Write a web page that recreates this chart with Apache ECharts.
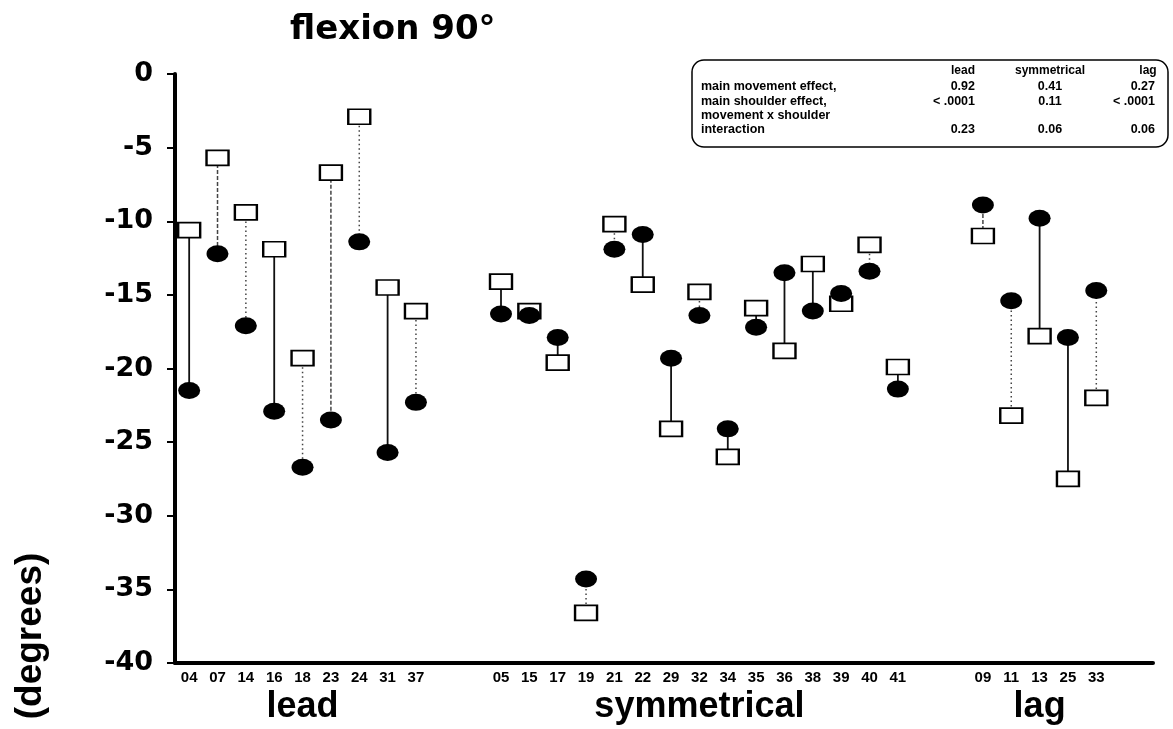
<!DOCTYPE html>
<html><head><meta charset="utf-8">
<script src="https://cdn.jsdelivr.net/npm/echarts@6/dist/echarts.min.js"></script>
<style>html,body{margin:0;padding:0;background:#fff}#c{width:1173px;height:729px}</style>
</head><body><div id="c"></div>
<script>
// ---- data ----
const leadIds = ['04','07','14','16','18','23','24','31','37'];
const leadSquare = [-10.6, -5.7, -9.4, -11.9, -19.3, -6.7, -2.9, -14.5, -16.1];
const leadCircle = [-21.5, -12.2, -17.1, -22.9, -26.7, -23.5, -11.4, -25.7, -22.3];

const symIds = ['05','15','17','19','21','22','29','32','34','35','36','38','39','40','41'];
const symSquare = [-14.1, -16.1, -19.6, -36.6, -10.2, -14.3, -24.1, -14.8, -26.0, -15.9, -18.8, -12.9, -15.6, -11.6, -19.9];
const symCircle = [-16.3, -16.4, -17.9, -34.3, -11.9, -10.9, -19.3, -16.4, -24.1, -17.2, -13.5, -16.1, -14.9, -13.4, -21.4];

const lagIds = ['09','11','13','25','33'];
const lagSquare = [-11.0, -23.2, -17.8, -27.5, -22.0];
const lagCircle = [-8.9, -15.4, -9.8, -17.9, -14.7];

const groupNames = ['lead', 'symmetrical', 'lag'];
const yTicks = [0, -5, -10, -15, -20, -25, -30, -35, -40];

const tableHeader = ['lead', 'symmetrical', 'lag'];
const tableRows = [
  ['main movement effect,', '0.92', '0.41', '0.27'],
  ['main shoulder effect,', '< .0001', '0.11', '< .0001'],
  ['movement x shoulder', '', '', ''],
  ['interaction', '0.23', '0.06', '0.06']
];

// ---- styles (connector dash types) ----
const leadLineType = ['solid','dashed','dotted','solid','dotted','dashed','dotted','solid','dotted'];
const symLineType = ['solid','solid','solid','dotted','dotted','solid','solid','dotted','solid','solid','solid','solid','solid','dotted','solid'];
const lagLineType = ['dashed','dotted','solid','solid','dotted'];

// ---- build ----
const groups = [
  {ids: leadIds, sq: leadSquare, ci: leadCircle, lt: leadLineType},
  {ids: symIds, sq: symSquare, ci: symCircle, lt: symLineType},
  {ids: lagIds, sq: lagSquare, ci: lagCircle, lt: lagLineType}
];
const groupGap = 2;
let p = 0;
const items = [];
const centers = [];
groups.forEach(g => {
  const s = p;
  g.ids.forEach((id, i) => { items.push({pos: p, id: id, sq: g.sq[i], ci: g.ci[i], lt: g.lt[i]}); p++; });
  centers.push((s + p - 1) / 2);
  p += groupGap;
});
const posToId = {}; items.forEach(it => posToId[it.pos] = it.id);
const centerToName = {}; centers.forEach((c, i) => centerToName[c] = groupNames[i]);

const chart = echarts.init(document.getElementById('c'));
const narrow = '"Liberation Sans Narrow", "Liberation Sans", Arial, sans-serif';
const wide = '"DejaVu Sans", sans-serif';
const tf = 'bold 12.5px "Liberation Sans", Arial, sans-serif';

// table graphic
const tbl = [];
const colX = [975, 1050, 1155];
const colAlign = ['right', 'center', 'right'];
const hdrX = [963, 1050, 1148];
tbl.push({type: 'rect', shape: {x: 692, y: 60, width: 476, height: 87, r: 12},
  style: {fill: '#fff', stroke: '#000', lineWidth: 1.5}, z: 10});
tableHeader.forEach((h, i) => tbl.push({type: 'text', x: hdrX[i], y: 71, z: 11,
  style: {text: h, font: 'bold 12px "Liberation Sans", Arial, sans-serif', fill: '#000', align: 'center', verticalAlign: 'middle'}}));
tableRows.forEach((r, ri) => {
  const y = 87 + ri * 14.3;
  tbl.push({type: 'text', x: 701, y: y, z: 11,
    style: {text: r[0], font: tf, fill: '#000', align: 'left', verticalAlign: 'middle'}});
  for (let c = 1; c < 4; c++) {
    if (!r[c]) continue;
    tbl.push({type: 'text', x: colX[c-1], y: y, z: 11,
      style: {text: r[c], font: tf, fill: '#000', align: colAlign[c-1], verticalAlign: 'middle'}});
  }
});

chart.setOption({
  animation: false,
  backgroundColor: '#fff',
  title: {text: 'flexion 90°', left: 285, top: 8,
    textStyle: {fontFamily: wide, fontWeight: 'bold', fontSize: 34, color: '#000'}},
  grid: {left: 175, right: 20, top: 74, bottom: 66, containLabel: false},
  xAxis: [{
    type: 'value', min: -0.5, max: 34, position: 'bottom',
    axisLine: {show: true, onZero: false, lineStyle: {color: '#000', width: 4}},
    axisTick: {show: false},
    splitLine: {show: false},
    axisLabel: {customValues: items.map(it => it.pos), formatter: v => posToId[v] || '',
      fontFamily: narrow, fontWeight: 'bold', fontSize: 15, color: '#000', margin: 7}
  }, {
    type: 'value', min: -0.5, max: 34, position: 'bottom',
    axisLine: {show: false}, axisTick: {show: false}, splitLine: {show: false},
    axisLabel: {customValues: centers, formatter: v => centerToName[v] || '',
      fontFamily: narrow, fontWeight: 'bold', fontSize: 36, color: '#000', margin: 26}
  }],
  yAxis: {
    type: 'value', min: -40, max: 0, interval: 5,
    axisLine: {show: true, onZero: false, lineStyle: {color: '#000', width: 4}},
    axisTick: {show: true, inside: false, length: 8, lineStyle: {color: '#000', width: 2}},
    splitLine: {show: false},
    axisLabel: {fontFamily: wide, fontWeight: 'bold', fontSize: 27, color: '#000', margin: 22,
      formatter: v => yTicks.indexOf(v) >= 0 ? String(v) : ''}
  },
  graphic: [
    {type: 'text', x: 31, y: 636, rotation: Math.PI / 2,
      style: {text: '(degrees)', font: 'bold 37px "Liberation Sans", Arial, sans-serif', fill: '#000', align: 'center', verticalAlign: 'middle'}},
    {type: 'group', children: tbl}
  ],
  series: [{
    type: 'custom', z: 1,
    data: items.map(it => [it.pos, it.sq, it.ci]),
    renderItem: function (params, api) {
      const it = items[params.dataIndex];
      const a = api.coord([api.value(0), api.value(1)]);
      const b = api.coord([api.value(0), api.value(2)]);
      const t = it.lt;
      return {type: 'line', shape: {x1: a[0], y1: a[1], x2: b[0], y2: b[1]},
        style: {stroke: t === 'solid' ? '#111' : '#444', lineWidth: t === 'solid' ? 1.8 : 1.5,
          lineDash: t === 'solid' ? null : (t === 'dashed' ? [4, 2] : [1.5, 3])}};
    }
  }, {
    type: 'scatter', z: 2, symbol: 'rect', symbolSize: [22, 15],
    itemStyle: {color: '#fff', borderColor: '#000', borderWidth: 2, opacity: 1},
    data: items.map(it => [it.pos, it.sq])
  }, {
    type: 'scatter', z: 3, symbol: 'circle', symbolSize: [22, 17],
    itemStyle: {color: '#000', opacity: 1},
    data: items.map(it => [it.pos, it.ci])
  }]
});
</script></body></html>
